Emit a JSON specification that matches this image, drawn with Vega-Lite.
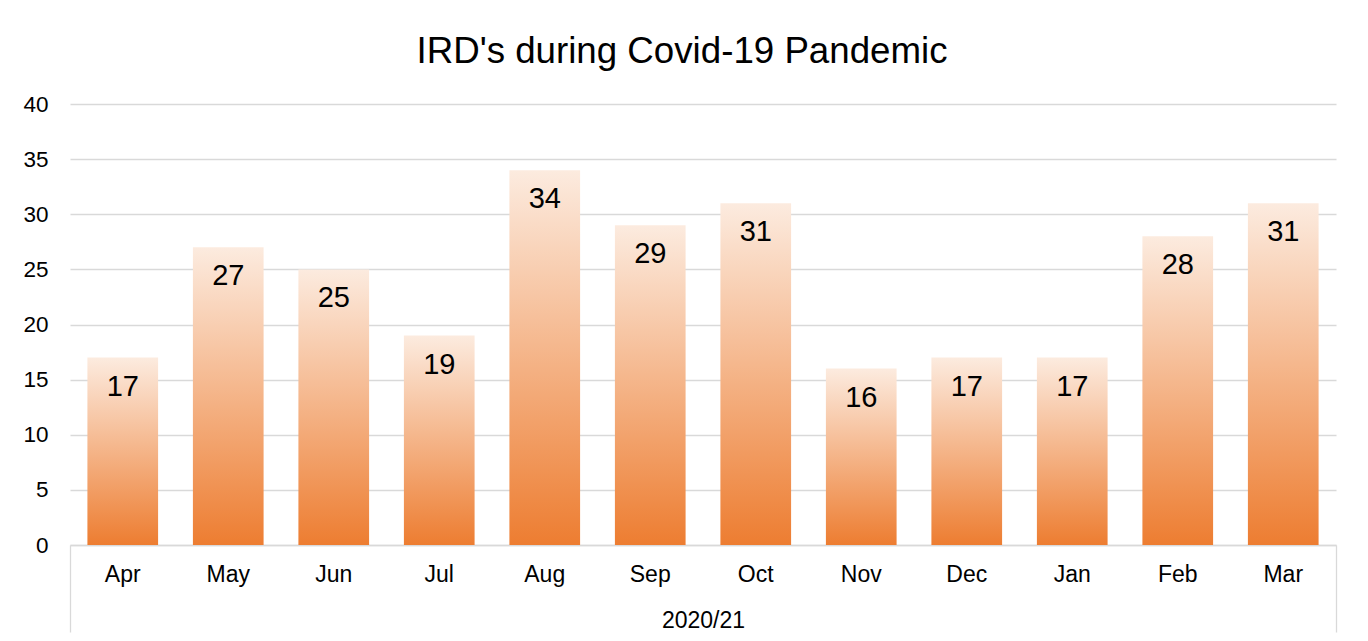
{
  "$schema": "https://vega.github.io/schema/vega-lite/v6.json",
  "autosize": "none",
  "width": 1266,
  "height": 441,
  "padding": {"left": 70, "top": 104, "right": 32, "bottom": 96},
  "background": "white",
  "config": {
    "font": "Liberation Sans",
    "view": {"stroke": null}
  },
  "title": {
    "text": "IRD's during Covid-19 Pandemic",
    "fontSize": 36.7,
    "fontWeight": "normal",
    "color": "#000000",
    "anchor": "middle",
    "baseline": "alphabetic",
    "offset": 41,
    "dy": 48,
    "dx": -21
  },
  "data": {
    "values": [
      {"month": "Apr", "count": 17},
      {"month": "May", "count": 27},
      {"month": "Jun", "count": 25},
      {"month": "Jul", "count": 19},
      {"month": "Aug", "count": 34},
      {"month": "Sep", "count": 29},
      {"month": "Oct", "count": 31},
      {"month": "Nov", "count": 16},
      {"month": "Dec", "count": 17},
      {"month": "Jan", "count": 17},
      {"month": "Feb", "count": 28},
      {"month": "Mar", "count": 31}
    ]
  },
  "layer": [
    {
      "encoding": {
        "x": {
          "field": "month",
          "type": "nominal",
          "sort": null,
          "scale": {"paddingInner": 0.33, "paddingOuter": 0.165},
          "axis": {
            "orient": "bottom",
            "title": "2020/21",
            "titleFontSize": 23,
            "titleFontWeight": "normal",
            "titleColor": "#000000",
            "titleBaseline": "alphabetic",
            "titleY": 82,
            "labelAngle": 0,
            "labelFontSize": 23,
            "labelColor": "#000000",
            "labelPadding": 18,
            "domainColor": "#d9d9d9",
            "domainWidth": 1.3,
            "ticks": false
          }
        },
        "y": {
          "field": "count",
          "type": "quantitative",
          "scale": {"domain": [0, 40]},
          "axis": {
            "title": null,
            "values": [0, 5, 10, 15, 20, 25, 30, 35, 40],
            "domain": false,
            "ticks": false,
            "labelFontSize": 22.5,
            "labelColor": "#000000",
            "labelPadding": 22,
            "gridColor": "#d9d9d9",
            "gridWidth": 1.3
          }
        }
      },
      "layer": [
        {
          "mark": {
            "type": "bar",
            "color": {
              "gradient": "linear",
              "x1": 0, "y1": 0, "x2": 0, "y2": 1,
              "stops": [
                {"offset": 0, "color": "#fcebdf"},
                {"offset": 1, "color": "#ed7d31"}
              ]
            }
          }
        },
        {
          "mark": {
            "type": "text",
            "baseline": "middle",
            "dy": 29,
            "fontSize": 29,
            "color": "#000000"
          },
          "encoding": {
            "text": {"field": "count", "type": "quantitative"}
          }
        }
      ]
    },
    {
      "mark": {"type": "rule", "opacity": 0},
      "encoding": {
        "x": {
          "field": "month",
          "type": "nominal",
          "sort": null,
          "scale": {"paddingInner": 0.33, "paddingOuter": 0},
          "axis": {
            "orient": "bottom",
            "title": null,
            "labels": false,
            "domain": false,
            "grid": false,
            "ticks": true,
            "tickBand": "extent",
            "tickSize": 87,
            "tickWidth": 1.3,
            "tickColor": "#d9d9d9",
            "tickOpacity": {
              "condition": {"test": "datum.extra || datum.value === 'Mar'", "value": 1},
              "value": 0
            }
          }
        }
      }
    }
  ],
  "resolve": {"scale": {"x": "independent"}, "axis": {"x": "independent"}}
}
